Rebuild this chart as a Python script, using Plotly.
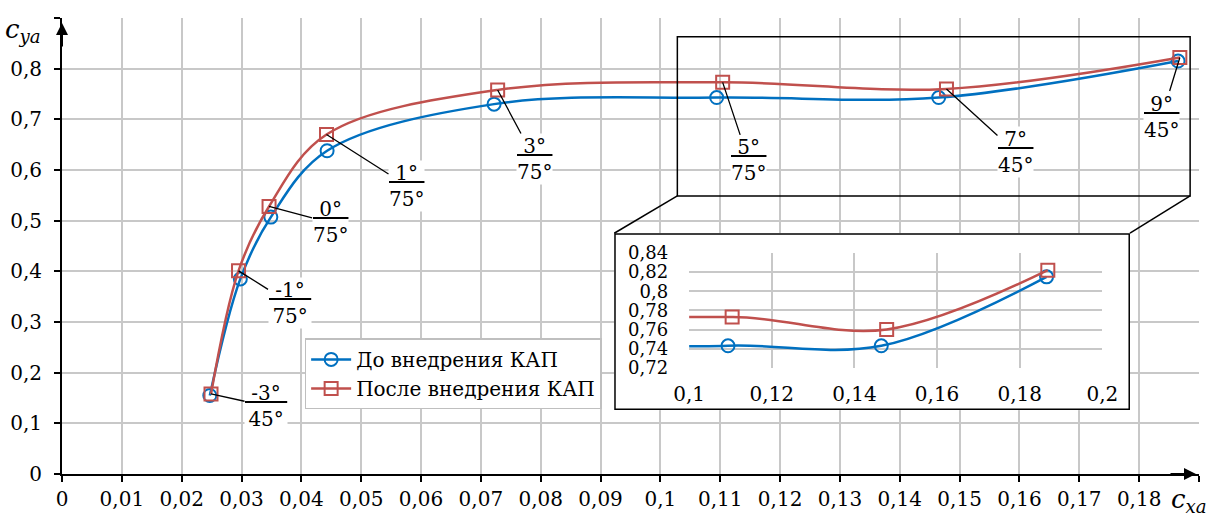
import plotly.graph_objects as go

# ---------------- data ----------------
cx_before = [0.0247, 0.0298, 0.0349, 0.0443, 0.0722, 0.1094, 0.1465, 0.1865]
cy_before = [0.155, 0.385, 0.507, 0.638, 0.730, 0.743, 0.743, 0.815]
cx_after = [0.0249, 0.0295, 0.0346, 0.0442, 0.0728, 0.1104, 0.1478, 0.1868]
cy_after = [0.158, 0.401, 0.528, 0.670, 0.758, 0.773, 0.760, 0.822]

angle_top = ["-3°", "-1°", "0°", "1°", "3°", "5°", "7°", "9°"]
angle_bottom = ["45°", "75°", "75°", "75°", "75°", "75°", "45°", "45°"]
label_dx = [55, 51, 61, 80, 37, 26, 69, -18]
label_dy = [12, 32, 16, 51, 69, 78, 63, 59]

main_x_ticks = [i / 100 for i in range(20)]
main_x_text = ["0", "0,01", "0,02", "0,03", "0,04", "0,05", "0,06", "0,07", "0,08", "0,09",
               "0,1", "0,11", "0,12", "0,13", "0,14", "0,15", "0,16", "0,17", "0,18", ""]
main_y_ticks = [i / 10 for i in range(10)]
main_y_text = ["0", "0,1", "0,2", "0,3", "0,4", "0,5", "0,6", "0,7", "0,8", ""]

inset_x_ticks = [0.10, 0.12, 0.14, 0.16, 0.18, 0.20]
inset_x_text = ["0,1", "0,12", "0,14", "0,16", "0,18", "0,2"]
inset_y_ticks = [0.72, 0.74, 0.76, 0.78, 0.80, 0.82, 0.84]
inset_y_text = ["0,72", "0,74", "0,76", "0,78", "0,8", "0,82", "0,84"]

names = ["До внедрения КАП", "После внедрения КАП"]

# ---------------- style ----------------
BLUE = "#0070C0"
RED = "#C0504D"
GRID = "#C8C8C8"
FONT = "DejaVu Serif"
FS = 20

fig = go.Figure()

# main traces
fig.add_trace(go.Scatter(
    x=cx_before, y=cy_before, name=names[0], mode="lines+markers",
    line=dict(color=BLUE, width=2.5, shape="spline", smoothing=1.0),
    marker=dict(symbol="circle-open", size=13, color=BLUE, line=dict(width=2)),
))
fig.add_trace(go.Scatter(
    x=cx_after, y=cy_after, name=names[1], mode="lines+markers",
    line=dict(color=RED, width=2.5, shape="spline", smoothing=1.0),
    marker=dict(symbol="square-open", size=13, color=RED, line=dict(width=2)),
))

# dummy trace to create the white inset frame subplot
fig.add_trace(go.Scatter(x=[None], y=[None], xaxis="x2", yaxis="y2",
                         showlegend=False, hoverinfo="skip"))

# inset traces
fig.add_trace(go.Scatter(
    x=cx_before, y=cy_before, xaxis="x3", yaxis="y3", mode="lines+markers", showlegend=False,
    line=dict(color=BLUE, width=2.5, shape="spline", smoothing=1.0),
    marker=dict(symbol="circle-open", size=13, color=BLUE, line=dict(width=2)),
))
fig.add_trace(go.Scatter(
    x=cx_after, y=cy_after, xaxis="x3", yaxis="y3", mode="lines+markers", showlegend=False,
    line=dict(color=RED, width=2.5, shape="spline", smoothing=1.0),
    marker=dict(symbol="square-open", size=13, color=RED, line=dict(width=2)),
))

axfont = dict(family=FONT, size=FS, color="black")
insetyfont = dict(family=FONT, size=18, color="black")

fig.update_layout(
    width=1222, height=518,
    margin=dict(l=62, r=7, t=14, b=40),
    paper_bgcolor="white", plot_bgcolor="white",
    font=axfont,
    xaxis=dict(range=[0, 0.19], tickvals=main_x_ticks, ticktext=main_x_text,
               showgrid=True, gridcolor=GRID, gridwidth=1.5, zeroline=False,
               showline=True, linecolor="black", linewidth=2,
               ticks="outside", ticklen=6, tickwidth=2, tickcolor="black",
               tickfont=axfont, domain=[0, 1]),
    yaxis=dict(range=[0, 0.9], tickvals=main_y_ticks, ticktext=main_y_text,
               showgrid=True, gridcolor=GRID, gridwidth=1.5, zeroline=False,
               showline=True, linecolor="black", linewidth=2,
               ticks="outside", ticklen=6, tickwidth=2, tickcolor="black",
               tickfont=axfont, ticklabelstandoff=8, domain=[0, 1]),
    xaxis2=dict(domain=[0.4857, 0.9393], range=[0, 1], visible=False, anchor="y2",
                fixedrange=True),
    yaxis2=dict(domain=[0.1401, 0.528], range=[0, 1], visible=False, anchor="x2",
                fixedrange=True),
    xaxis3=dict(domain=[0.5516, 0.915], range=[0.1, 0.2], anchor="y3",
                tickvals=inset_x_ticks, ticktext=inset_x_text,
                showgrid=True, gridcolor=GRID, gridwidth=1.5, zeroline=False,
                showline=False, ticks="", tickfont=axfont, ticklabelstandoff=12),
    yaxis3=dict(domain=[0.2328, 0.4849], range=[0.72, 0.84], anchor="x3",
                tickvals=inset_y_ticks, ticktext=inset_y_text,
                showgrid=True, gridcolor=GRID, gridwidth=1.5, zeroline=False,
                showline=False, ticks="", tickfont=insetyfont, ticklabelstandoff=20),
    legend=dict(x=0.2134, y=0.2974, xanchor="left", yanchor="top",
                bgcolor="white", bordercolor="#BFBFBF", borderwidth=1.5,
                font=dict(family=FONT, size=FS, color="black"),
                tracegroupgap=0, itemwidth=40),
    showlegend=True,
)

# shapes: zoom rectangle, inset frame, connectors
fig.add_shape(type="rect", xref="paper", yref="paper", x0=0.5412, x1=0.9922, y0=0.6099, y1=0.9591,
              line=dict(color="black", width=1.5), fillcolor="rgba(0,0,0,0)", layer="above")
fig.add_shape(type="rect", xref="x2", yref="y2", x0=0, x1=1, y0=0, y1=1,
              line=dict(color="black", width=3), fillcolor="white", layer="below")
fig.add_shape(type="line", xref="paper", yref="paper", x0=0.5412, y0=0.6099, x1=0.4857, y1=0.528,
              line=dict(color="black", width=1.5), layer="above")
fig.add_shape(type="line", xref="paper", yref="paper", x0=0.9922, y0=0.6099, x1=0.9393, y1=0.528,
              line=dict(color="black", width=1.5), layer="above")

# angle labels
for i in range(len(cx_after)):
    fig.add_annotation(
        x=cx_after[i], y=cy_after[i], xref="x", yref="y",
        text=f"<u>&nbsp;{angle_top[i]}&nbsp;</u><br>{angle_bottom[i]}",
        showarrow=True, arrowhead=0, arrowwidth=1.3, arrowcolor="black",
        ax=label_dx[i], ay=label_dy[i], standoff=0,
        font=dict(family=FONT, size=20, color="black"),
        bgcolor="white", borderpad=0, align="center",
    )

# axis arrows
fig.add_annotation(x=0, y=0.9, xref="x", yref="y", ax=0, ay=30, text="",
                   showarrow=True, arrowhead=2, arrowsize=1.2, arrowwidth=2,
                   arrowcolor="black", standoff=5)
fig.add_annotation(x=0.19, y=0, xref="x", yref="y", ax=-30, ay=0, text="",
                   showarrow=True, arrowhead=2, arrowsize=1.2, arrowwidth=2,
                   arrowcolor="black", standoff=3)

# axis titles
fig.add_annotation(x=-0.0165, y=0.972, xref="paper", yref="paper", xanchor="right", yanchor="middle",
                   text="<i>c<sub>ya</sub></i>", showarrow=False,
                   font=dict(family=FONT, size=26, color="black"))
fig.add_annotation(x=0.991, y=-0.058, xref="paper", yref="paper", xanchor="center", yanchor="middle",
                   text="<i>c<sub>xa</sub></i>", showarrow=False,
                   font=dict(family=FONT, size=26, color="black"))

fig.write_html("out.html")
